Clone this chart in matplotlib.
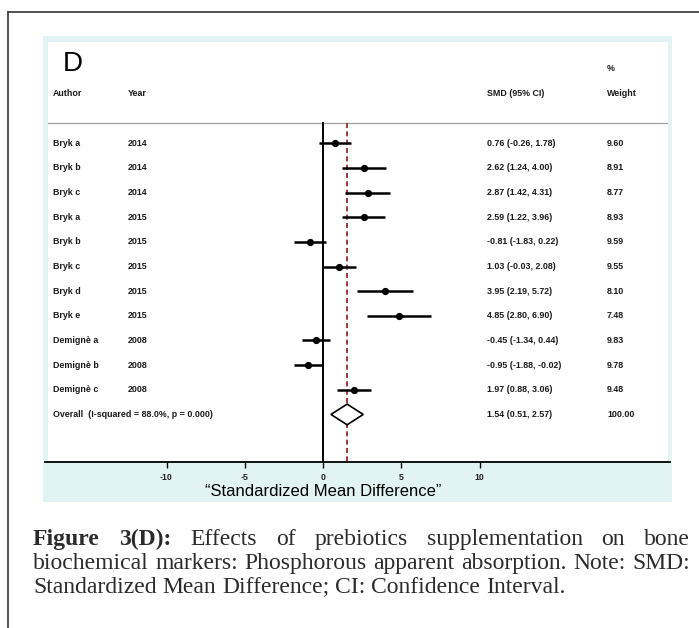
import matplotlib
matplotlib.use("Agg")
import matplotlib.pyplot as plt
from matplotlib.patches import Rectangle, Polygon
from matplotlib.lines import Line2D
from matplotlib.transforms import blended_transform_factory

# ---- study data -------------------------------------------------------------
authors = ["Bryk a", "Bryk b", "Bryk c", "Bryk a", "Bryk b", "Bryk c",
           "Bryk d", "Bryk e", "Demignè a", "Demignè b", "Demignè c"]
years = ["2014", "2014", "2014", "2015", "2015", "2015",
         "2015", "2015", "2008", "2008", "2008"]
smd = [0.76, 2.62, 2.87, 2.59, -0.81, 1.03, 3.95, 4.85, -0.45, -0.95, 1.97]
ci_low = [-0.26, 1.24, 1.42, 1.22, -1.83, -0.03, 2.19, 2.80, -1.34, -1.88, 0.88]
ci_high = [1.78, 4.00, 4.31, 3.96, 0.22, 2.08, 5.72, 6.90, 0.44, -0.02, 3.06]
weights = [9.60, 8.91, 8.77, 8.93, 9.59, 9.55, 8.10, 7.48, 9.83, 9.78, 9.48]

overall_label = "Overall  (I-squared = 88.0%, p = 0.000)"
overall_smd = 1.54
overall_low = 0.51
overall_high = 2.57
overall_weight = 100.00

x_ticks = [-10, -5, 0, 5, 10]
x_title = "\u201cStandardized Mean Difference\u201d"

caption_lines = [
    [("Figure", True), ("3(D):", True), ("Effects", False), ("of", False),
     ("prebiotics", False), ("supplementation", False), ("on", False), ("bone", False)],
    [(w, False) for w in "biochemical markers: Phosphorous apparent absorption. Note: SMD:".split()],
    [(w, False) for w in "Standardized Mean Difference; CI: Confidence Interval.".split()],
]

# ---- figure -------------------------------------------------------------------
W, H = 699, 628
DPI = 100
fig = plt.figure(figsize=(W / DPI, H / DPI), dpi=DPI)
fig.patch.set_facecolor("white")


def fx(px):
    return px / W


def fy(py):
    return (H - py) / H


# page frame (left and top rules)
fig.add_artist(Line2D([fx(8), fx(8)], [fy(12), fy(H + 2)], color="#444444", lw=1.3))
fig.add_artist(Line2D([fx(8), fx(W + 2)], [fy(12), fy(12)], color="#444444", lw=1.3))

# tinted panel with a white plotting area
fig.add_artist(Rectangle((fx(43), fy(502)), fx(672) - fx(43), fy(36) - fy(502),
                         facecolor="#e1f4f3", edgecolor="none", zorder=0))
fig.add_artist(Rectangle((fx(48), fy(462)), fx(668) - fx(48), fy(42) - fy(462),
                         facecolor="white", edgecolor="none", zorder=0))

# forest plot axes
ax_left, ax_right, ax_top, ax_bot = 45, 670, 42, 462
ax = fig.add_axes([fx(ax_left), fy(ax_bot), fx(ax_right) - fx(ax_left), fy(ax_top) - fy(ax_bot)])
ax.patch.set_alpha(0)
px_per_unit = 15.65
zero_px = 323
ax.set_xlim((ax_left - zero_px) / px_per_unit, (ax_right - zero_px) / px_per_unit)
row0_px, row_step = 143.3, 24.65
ax.set_ylim((ax_bot - row0_px) / row_step, (ax_top - row0_px) / row_step)

for s in ("top", "left", "right"):
    ax.spines[s].set_visible(False)
ax.spines["bottom"].set_linewidth(1.3)
ax.spines["bottom"].set_color("black")
ax.set_yticks([])
ax.set_xticks(x_ticks)
ax.set_xticklabels([str(t) for t in x_ticks], fontsize=6.3, family="Liberation Sans",
                   fontweight="bold", color="#222222")
ax.tick_params(axis="x", length=4, width=1, pad=4, direction="out")

n = len(smd)
rows = list(range(n))
overall_row = n
header_row = (94 - row0_px) / row_step
rule_row = (123 - row0_px) / row_step
y_bottom = ax.get_ylim()[0]

# header rule
ax.plot([0.005, 0.995], [rule_row, rule_row], color="#a0a0a0", lw=0.9,
        transform=blended_transform_factory(ax.transAxes, ax.transData))

# reference lines
ax.plot([0, 0], [rule_row, y_bottom], color="black", lw=1.4, zorder=2)
ax.plot([overall_smd, overall_smd], [rule_row, y_bottom], color="#8b1a1a", lw=1.2,
        dashes=(3, 2), zorder=2)

# study estimates
for r, m, lo, hi in zip(rows, smd, ci_low, ci_high):
    ax.plot([lo, hi], [r, r], color="black", lw=1.8, solid_capstyle="butt", zorder=3)
    ax.plot([m], [r], "o", color="black", ms=4.2, zorder=4)

# pooled estimate diamond
diamond = Polygon([(overall_low, overall_row), (overall_smd, overall_row - 0.42),
                   (overall_high, overall_row), (overall_smd, overall_row + 0.42)],
                  closed=True, facecolor="white", edgecolor="black", lw=1.2, zorder=4)
ax.add_patch(diamond)

# text columns
tx = blended_transform_factory(ax.transAxes, ax.transData)
col_author = (53 - ax_left) / (ax_right - ax_left)
col_year = (128 - ax_left) / (ax_right - ax_left)
col_smd = (487 - ax_left) / (ax_right - ax_left)
col_w = (607 - ax_left) / (ax_right - ax_left)
txt_kw = dict(fontsize=6.4, family="Liberation Sans", fontweight="bold", va="center",
              ha="left", transform=tx, color="#1a1a1a")

ax.text((63 - ax_left) / (ax_right - ax_left), (64 - row0_px) / row_step, "D",
        fontsize=20, family="Liberation Sans", va="center", ha="left", transform=tx)
ax.text(col_author, header_row, "Author", **txt_kw)
ax.text(col_year, header_row, "Year", **txt_kw)
ax.text(col_smd, header_row, "SMD (95% CI)", **txt_kw)
ax.text(col_w, header_row, "Weight", **txt_kw)
ax.text(col_w, (69 - row0_px) / row_step, "%", **txt_kw)

for r, a, yv, m, lo, hi, w in zip(rows, authors, years, smd, ci_low, ci_high, weights):
    ax.text(col_author, r, a, **txt_kw)
    ax.text(col_year, r, yv, **txt_kw)
    ax.text(col_smd, r, f"{m:.2f} ({lo:.2f}, {hi:.2f})", **txt_kw)
    ax.text(col_w, r, f"{w:.2f}", **txt_kw)

ax.text(col_author, overall_row, overall_label, **txt_kw)
ax.text(col_smd, overall_row,
        f"{overall_smd:.2f} ({overall_low:.2f}, {overall_high:.2f})", **txt_kw)
ax.text(col_w, overall_row, f"{overall_weight:.2f}", **txt_kw)

# axis title
ax.text(0, fy(491), x_title, fontsize=12, family="Liberation Sans", ha="center",
        va="center", transform=blended_transform_factory(ax.transData, fig.transFigure))

# ---- justified caption ---------------------------------------------------------
renderer = fig.canvas.get_renderer()
cap_left, cap_right = 33, 690
cap_baselines = [545, 569, 593]
cap_kw = dict(fontsize=17, family="Liberation Serif", color="#2b2b2b", va="baseline",
              ha="left")
probe = fig.text(0, 0, "a a", **cap_kw)
probe2 = fig.text(0, 0, "aa", **cap_kw)
space_px = probe.get_window_extent(renderer).width - probe2.get_window_extent(renderer).width
probe.remove()
probe2.remove()

for li, (words, ypx) in enumerate(zip(caption_lines, cap_baselines)):
    artists = []
    for word, bold in words:
        t = fig.text(0, fy(ypx), word, fontweight="bold" if bold else "normal", **cap_kw)
        artists.append(t)
    widths = [t.get_window_extent(renderer).width for t in artists]
    if li < len(caption_lines) - 1:
        gap = (cap_right - cap_left - sum(widths)) / (len(words) - 1)
    else:
        gap = space_px
    x = cap_left
    for t, wpx in zip(artists, widths):
        t.set_x(fx(x))
        x += wpx + gap

fig.savefig("out.png", dpi=DPI)
